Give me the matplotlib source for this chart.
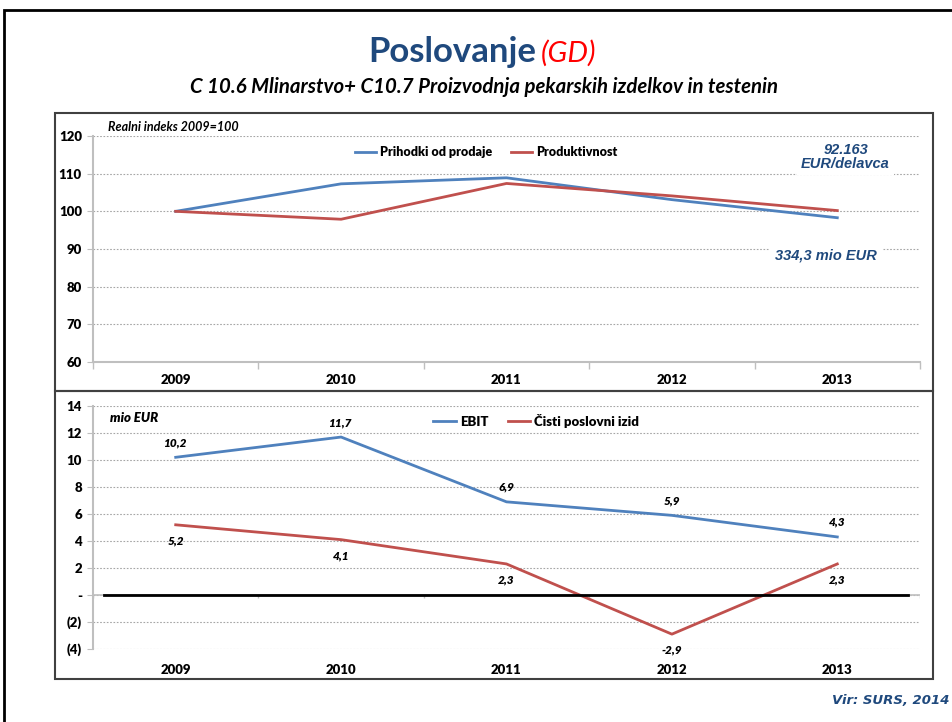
import matplotlib.pyplot as plt
from matplotlib.patches import Rectangle

years = ["2009", "2010", "2011", "2012", "2013"]

# zgornji graf - realni indeks 2009=100
prihodki = [100, 107.3, 108.9, 103.1, 98.3]
produktivnost = [100, 97.9, 107.4, 104.1, 100.2]

# spodnji graf - mio EUR
ebit = [10.2, 11.7, 6.9, 5.9, 4.3]
cisti_izid = [5.2, 4.1, 2.3, -2.9, 2.3]

top_ticks = [60, 70, 80, 90, 100, 110, 120]
bot_ticks = [14, 12, 10, 8, 6, 4, 2, 0, -2, -4]
bot_ticklabels = ["14", "12", "10", "8", "6", "4", "2", "-", "(2)", "(4)"]

BLUE = "#4F81BD"
RED = "#C0504D"
GRID = "#BFBFBF"
TITLE_BLUE = "#1F497D"
CAL = "Lato"
BOLD = "heavy"

W, H = 953, 722
fig = plt.figure(figsize=(W / 100, H / 100), dpi=100)


def fbox(x0, y0, x1, y1, **kw):
    # pixel coords (top-left origin) -> figure rectangle
    r = Rectangle((x0 / W, 1 - y1 / H), (x1 - x0) / W, (y1 - y0) / H,
                  transform=fig.transFigure, fill=False, **kw)
    fig.patches.append(r)


def axes_px(x0, y0, x1, y1):
    return fig.add_axes([x0 / W, 1 - y1 / H, (x1 - x0) / W, (y1 - y0) / H])


# okvir strani
fbox(4, 10, 960, 730, edgecolor="black", linewidth=2)
# okvirja grafov
fbox(55, 113, 933, 391, edgecolor="#404040", linewidth=1.5)
fbox(55, 391, 933, 679, edgecolor="#404040", linewidth=1.5)

# naslov
fig.text(536 / W, 1 - 62 / H, "Poslovanje", ha="right", va="baseline",
         fontsize=25, fontweight="bold", color=TITLE_BLUE, family=CAL)
fig.text(541 / W, 1 - 62 / H, "(GD)", ha="left", va="baseline",
         fontsize=21, style="italic", color="red", family=CAL)
fig.text(484 / W, 1 - 87 / H,
         "C 10.6 Mlinarstvo+ C10.7 Proizvodnja pekarskih izdelkov in testenin",
         ha="center", va="center", fontsize=14.7, fontweight="bold",
         style="italic", family=CAL)

x = list(range(len(years)))
minor = [i + 0.5 for i in range(-1, len(years))]


def style_axes(ax):
    ax.set_xlim(-0.5, len(years) - 0.5)
    for s in ["top", "right"]:
        ax.spines[s].set_visible(False)
    ax.spines["left"].set_color(GRID)
    ax.spines["left"].set_linewidth(1.5)
    ax.tick_params(axis="y", length=4, color=GRID, labelsize=9.5, pad=4)
    ax.set_xticks(x)
    ax.set_xticklabels(years, fontsize=9.5, fontweight=BOLD, family=CAL)
    ax.tick_params(axis="x", which="major", length=0)
    for lab in ax.get_yticklabels():
        lab.set_fontweight(BOLD)
        lab.set_family(CAL)
    ax.set_axisbelow(True)


# ---------------- zgornji graf ----------------
ax1 = axes_px(93, 136, 920, 362)
ax1.plot(x, prihodki, color=BLUE, linewidth=2, label="Prihodki od prodaje")
ax1.plot(x, produktivnost, color=RED, linewidth=2, label="Produktivnost")
ax1.set_ylim(60, 120)
ax1.set_yticks(top_ticks)
style_axes(ax1)
ax1.spines["bottom"].set_color(GRID)
ax1.spines["bottom"].set_linewidth(1.5)
ax1.set_xticks(minor, minor=True)
ax1.tick_params(axis="x", which="minor", length=5, color=GRID, width=1)
ax1.tick_params(axis="x", which="major", pad=9)
ax1.yaxis.grid(True, linestyle=(0, (1.5, 1.5)), color="#A6A6A6", linewidth=0.8)
ax1.get_ygridlines()[0].set_visible(False)
ax1.legend(loc="center", bbox_to_anchor=(0.475, 0.929), ncol=2,
           frameon=False, handlelength=1.7, handletextpad=0.3,
           columnspacing=1.5, prop={"family": CAL, "weight": BOLD,
                                    "size": 9})
ax1.text(0.018, 1.04, "Realni indeks 2009=100", transform=ax1.transAxes,
         ha="left", va="center", fontsize=9, style="italic",
         fontweight="bold", family=CAL)
ax1.text(4.05, 114.4, "92.163\nEUR/delavca", ha="center", va="center",
         fontsize=10.5, style="italic", fontweight="bold", color=TITLE_BLUE,
         family="Liberation Sans", linespacing=1.0,
         bbox=dict(facecolor="white", edgecolor="none", pad=3))
ax1.text(3.93, 88.4, "334,3 mio EUR", ha="center", va="center",
         fontsize=10.5, style="italic", fontweight="bold", color=TITLE_BLUE,
         family="Liberation Sans",
         bbox=dict(facecolor="white", edgecolor="none", pad=4))

# ---------------- spodnji graf ----------------
ax2 = axes_px(93, 406, 920, 649)
ax2.plot(x, ebit, color=BLUE, linewidth=2, label="EBIT")
ax2.plot(x, cisti_izid, color=RED, linewidth=2, label="Čisti poslovni izid")
ax2.set_ylim(-4, 14)
ax2.set_yticks(bot_ticks)
ax2.set_yticklabels(bot_ticklabels)
style_axes(ax2)
ax2.spines["bottom"].set_visible(False)
ax2.tick_params(axis="x", which="major", pad=11)
ax2.yaxis.grid(True, linestyle=(0, (1.5, 1.5)), color="#A6A6A6", linewidth=0.8)
# kategorijska os pri 0
ax2.axhline(0, color=GRID, linewidth=1.2, zorder=1)
ax2.vlines(minor, -0.25, 0, color=GRID, linewidth=1, zorder=1)
ax2.axhline(0, xmin=(104 - 93) / 827, xmax=(908 - 93) / 827,
            color="black", linewidth=2, zorder=3)

for xi, v in zip(x, ebit):
    ax2.annotate(f"{v:.1f}".replace(".", ","), (xi, v), xytext=(0, 10.5),
                 textcoords="offset points", ha="center", va="center",
                 fontsize=8.5, style="italic", fontweight=BOLD, family=CAL)
for xi, v in zip(x, cisti_izid):
    ax2.annotate(f"{v:.1f}".replace(".", ","), (xi, v), xytext=(0, -11.5),
                 textcoords="offset points", ha="center", va="center",
                 fontsize=8.5, style="italic", fontweight=BOLD, family=CAL)

ax2.legend(loc="center", bbox_to_anchor=(0.536, 0.938), ncol=2,
           frameon=False, handlelength=1.7, handletextpad=0.3,
           columnspacing=1.5, prop={"family": CAL, "weight": BOLD,
                                    "size": 9.5})
ax2.text(0.02, 0.95, "mio EUR", transform=ax2.transAxes, ha="left",
         va="center", fontsize=9.5, style="italic", fontweight=BOLD,
         family=CAL)

fig.text(950 / W, 1 - 701 / H, "Vir: SURS, 2014", ha="right", va="center",
         fontsize=9.5, style="italic", fontweight="bold", color=TITLE_BLUE,
         family="DejaVu Sans")

fig.savefig("out.png", dpi=100)
